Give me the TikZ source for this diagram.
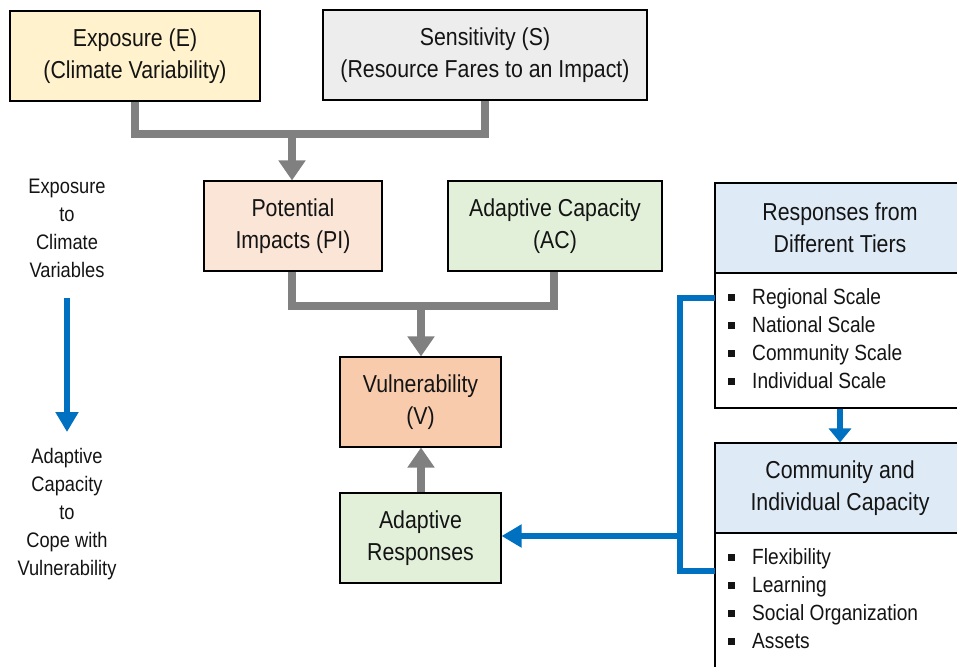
\documentclass[tikz,border=0pt]{standalone}
\usepackage{fontspec}
\setmainfont{Liberation Sans}[FakeStretch=0.87]
\usetikzlibrary{arrows.meta}
\definecolor{cExp}{HTML}{FFF2CC}
\definecolor{cSen}{HTML}{EDEDED}
\definecolor{cPI}{HTML}{FBE5D6}
\definecolor{cGreen}{HTML}{E2F0D9}
\definecolor{cVul}{HTML}{F8CBAD}
\definecolor{cHead}{HTML}{DEEBF7}
\definecolor{cGray}{HTML}{808080}
\definecolor{cBlue}{HTML}{0070C0}
\newcommand\fbig{\fontsize{24.5}{32}\selectfont}
\newcommand\fsmall{\fontsize{22}{28}\selectfont}
\newcommand\fside{\fontsize{21}{28}\selectfont}
\newcommand\sqb{\rule[4pt]{6.5pt}{6.5pt}\hspace{17.5pt}}
\begin{document}
\begin{tikzpicture}[x=1pt,y=-1pt,
  box/.style={draw=black, line width=1.1pt, minimum height=90pt, align=center,
    font=\fbig, inner sep=0pt, text=black!92},
  body/.style={draw=black, line width=1.1pt, fill=white, inner sep=0pt},
  item/.style={anchor=base west, inner sep=0pt, font=\fsmall, text=black!92},
  side/.style={align=center, font=\fside, inner sep=0pt, text=black!92},
  gline/.style={draw=cGray, line width=8.5pt},
  garrow/.style={gline, -{Triangle[width=26pt,length=20pt]}},
  bline/.style={draw=cBlue, line width=6pt},
  barrow/.style={bline, -{Triangle[width=22pt,length=20pt]}}]
\clip (0,0) rectangle (957,666);
% top boxes
\node[box, fill=cExp, minimum width=250pt] (exp) at (135,56) {Exposure (E)\\(Climate Variability)};
\node[box, fill=cSen, minimum width=324pt] (sen) at (485,55) {Sensitivity (S)\\(Resource Fares to an Impact)};
\node[box, fill=cPI, minimum width=178pt] (pi) at (293,226) {Potential\\Impacts (PI)};
\node[box, fill=cGreen, minimum width=214pt] (ac) at (555,226) {Adaptive Capacity\\(AC)};
\node[box, fill=cVul, minimum width=161pt] (vul) at (420.5,402) {Vulnerability\\(V)};
\node[box, fill=cGreen, minimum width=161pt] (ar) at (420.5,538) {Adaptive\\Responses};
% gray connectors
\coordinate (j1) at (292,134);
\coordinate (j2) at (421,306);
\draw[gline] (exp.south) -- (exp.south |- j1) -- (sen.south |- j1) -- (sen.south);
\draw[garrow] ([yshift=4.25pt]j1) -- (pi.north -| j1);
\draw[gline] (pi.south -| 292,0) -- (292,306) -- (554,306) -- (ac.south -| 554,0);
\draw[garrow] ([yshift=4.25pt]j2) -- (vul.north -| j2);
\draw[garrow] (ar.north -| j2) -- (vul.south -| j2);
% right boxes
\node[body, minimum width=250pt, minimum height=135pt] (rtb) at (840,340.5) {};
\node[box, fill=cHead, minimum width=250pt] (rt) at (840,228) {Responses from\\Different Tiers};
\foreach \t [count=\i] in {Regional Scale, National Scale, Community Scale, Individual Scale}
  \node[item] (rti\i) at (728,276.5+28*\i) {\sqb\t};
\node[body, minimum width=250pt, minimum height=160pt] (cib) at (840,613) {};
\node[box, fill=cHead, minimum width=250pt] (ci) at (840,488) {Community and\\Individual Capacity};
\foreach \t [count=\i] in {Flexibility, Learning, Social Organization, Assets}
  \node[item] (cii\i) at (728,536.5+28*\i) {\sqb\t};
% blue connectors
\coordinate (b1) at (715,298);
\coordinate (b2) at (680,298);
\coordinate (b3) at (680,571);
\coordinate (b4) at (715,571);
\coordinate (b5) at (680,536);
\draw[bline] (b1) -- (b2) -- (b3) -- (b4);
\draw[barrow] (b5) -- (ar.east |- b5);
\draw[bline, -{Triangle[width=22pt,length=14pt]}] (rtb.south -| 840,0) -- (ci.north -| 840,0);
% left side
\node[side] (lt1) at (67,228) {Exposure\\to\\Climate\\Variables};
\node[side] (lt2) at (67,514) {Adaptive\\Capacity\\to\\Cope with\\Vulnerability};
\coordinate (a1) at (67,298);
\coordinate (a2) at (67,432);
\draw[barrow] (a1) -- (a2);
\end{tikzpicture}
\end{document}
